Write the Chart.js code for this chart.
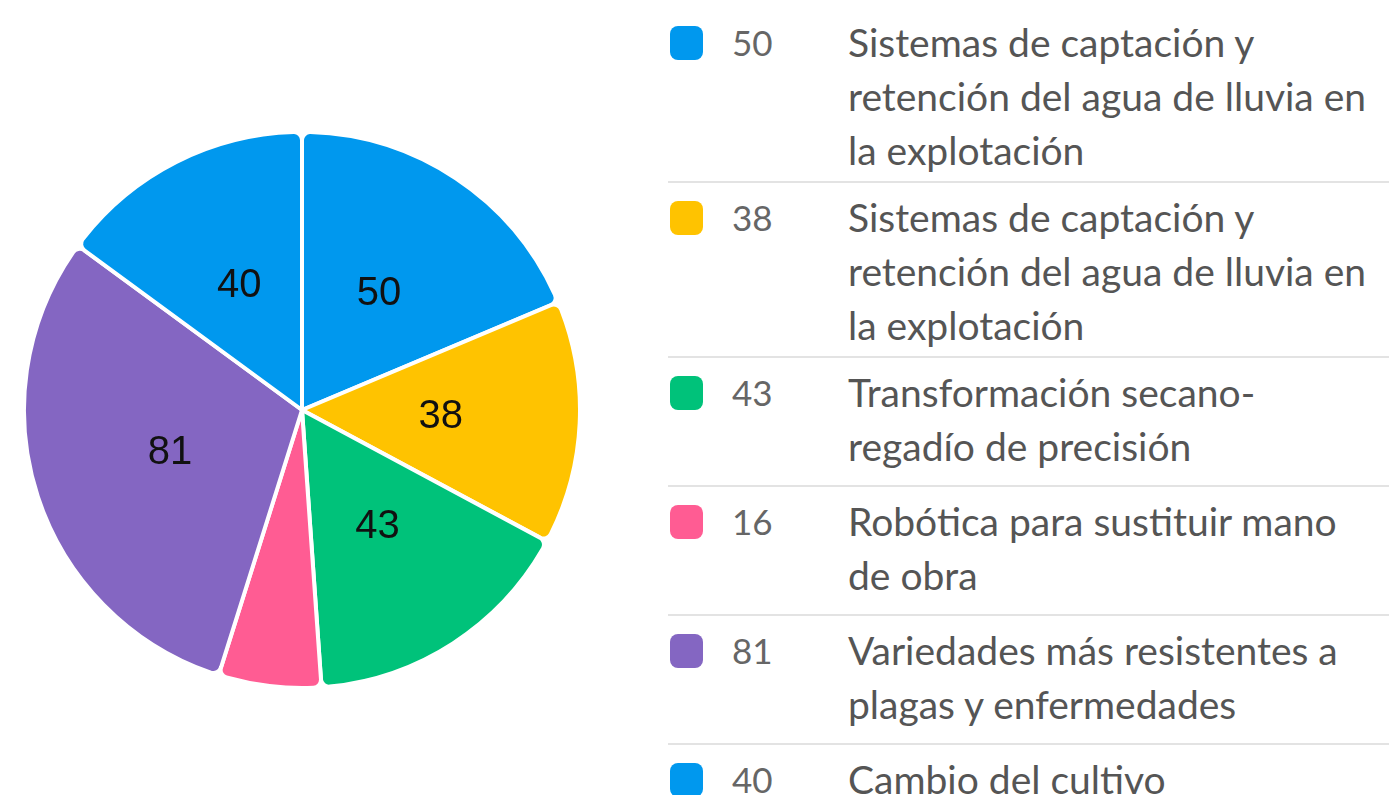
<!DOCTYPE html>
<html>
<head>
<meta charset="utf-8">
<script src="https://cdn.jsdelivr.net/npm/chart.js@4.4.1/dist/chart.umd.min.js"></script>
<style>
  html, body { margin: 0; padding: 0; background: #fff; overflow: hidden; }
  body { width: 1389px; height: 795px; position: relative; font-family: Lato, 'Noto Sans', sans-serif; }
  #pieBox { position: absolute; left: 22px; top: 130px; width: 560px; height: 560px; }
  #legend { position: absolute; left: 668px; top: 8px; width: 721px; }
  .row { display: flex; padding: 7px 0 4px 0; min-height: 129px; box-sizing: border-box; border-bottom: 2px solid #e3e3e3; }
  .row:last-child { border-bottom: none; }
  .swatch { width: 33px; height: 34px; border-radius: 8px; margin: 11px 0 0 2px; flex: none; }
  .num { width: 145px; padding-left: 29px; box-sizing: border-box; flex: none; font-size: 35px; line-height: 54px; color: #666; }
  .txt { font-size: 39px; line-height: 54px; color: #555; white-space: nowrap; }
</style>
</head>
<body>
<div id="pieBox"><canvas id="pie"></canvas></div>
<div id="legend"></div>
<script>
// chart data
const categories = [
  ['Sistemas de captación y', 'retención del agua de lluvia en', 'la explotación'],
  ['Sistemas de captación y', 'retención del agua de lluvia en', 'la explotación'],
  ['Transformación secano-', 'regadío de precisión'],
  ['Robótica para sustituir mano', 'de obra'],
  ['Variedades más resistentes a', 'plagas y enfermedades'],
  ['Cambio del cultivo']
];
const values = [50, 38, 43, 16, 81, 40];
const colors = ['#0098ee', '#ffc300', '#00c27a', '#ff5c93', '#8466c2', '#0098ee'];

// legend on the right, built from the same arrays
const legendEl = document.getElementById('legend');
categories.forEach((lines, i) => {
  const row = document.createElement('div');
  row.className = 'row';
  row.innerHTML =
    `<div class="swatch" style="background:${colors[i]}"></div>` +
    `<div class="num">${values[i]}</div>` +
    `<div class="txt">${lines.join('<br>')}</div>`;
  legendEl.appendChild(row);
});

// value labels inside the slices (small slice left without a label, like the original)
const sliceLabels = {
  id: 'sliceLabels',
  afterDatasetsDraw(chart) {
    const ctx = chart.ctx;
    const meta = chart.getDatasetMeta(0);
    ctx.save();
    ctx.font = '40px "Liberation Sans", Arial, sans-serif';
    ctx.fillStyle = '#111';
    ctx.textAlign = 'center';
    ctx.textBaseline = 'middle';
    meta.data.forEach((arc, i) => {
      if (values[i] < 20) return;
      const p = arc.getCenterPoint();
      ctx.fillText(values[i], p.x, p.y);
    });
    ctx.restore();
  }
};

new Chart(document.getElementById('pie'), {
  type: 'pie',
  data: {
    labels: categories,
    datasets: [{
      data: values,
      backgroundColor: colors,
      borderColor: '#ffffff',
      borderWidth: 4,
      borderRadius: 8
    }]
  },
  options: {
    responsive: true,
    maintainAspectRatio: false,
    animation: false,
    layout: { padding: 0 },
    plugins: {
      legend: { display: false },
      tooltip: { enabled: false }
    }
  },
  plugins: [sliceLabels]
});
</script>
</body>
</html>
